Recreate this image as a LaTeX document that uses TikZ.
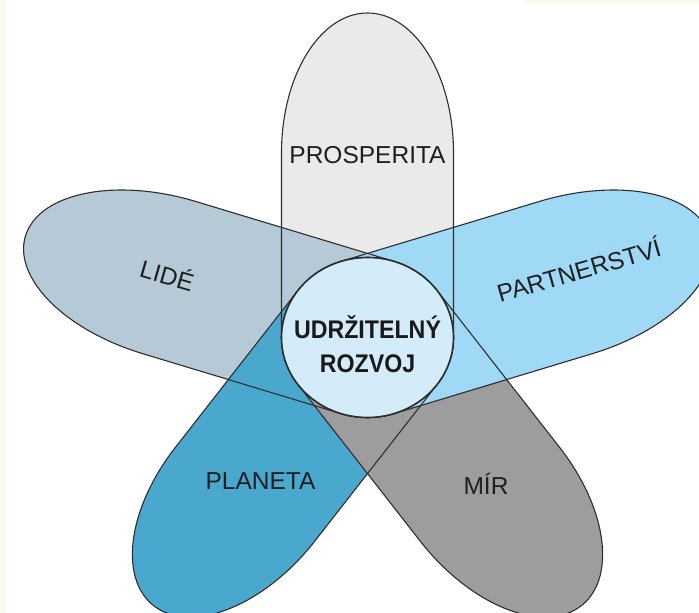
\documentclass[tikz,border=0pt]{standalone}
\usepackage{fontspec}
\setmainfont{Liberation Sans}
\newfontfamily\centerfont[FakeStretch=0.91]{Liberation Sans}
\definecolor{cprosp}{HTML}{EAEAEA}
\definecolor{clide}{HTML}{B5C9D7}
\definecolor{cpart}{HTML}{A0D9F5}
\definecolor{cplan}{HTML}{4AA8CE}
\definecolor{cmir}{HTML}{9C9D9C}
\definecolor{ccirc}{HTML}{D4EBFA}
\definecolor{linegrey}{HTML}{2E2E2E}
\definecolor{textgrey}{HTML}{1F1F1F}
\definecolor{bgyellow}{HTML}{F8FCEC}
\newcommand\petal[4]{%
  \path[rotate=#1,#4] (0,80) -- (#2,80)
    arc[start angle=90,end angle=-90,x radius=#3,y radius=80]
    -- (0,-80) arc[start angle=-90,end angle=-270,radius=80] -- cycle;}
\begin{document}
\begin{tikzpicture}[x=1pt,y=1pt,
  petalline/.style={draw=linegrey,line width=1.1pt},
  lbl/.style={font=\fontsize{24.5}{29}\selectfont,text=textgrey,inner sep=0pt,
    text height=17.5pt,text depth=0pt},
  ctext/.style={font=\centerfont\bfseries\fontsize{25.5}{30}\selectfont,
    text=black!90,inner sep=0pt,anchor=base}]
\useasboundingbox (0,0) rectangle (699,-613);
\fill[white] (0,0) rectangle (699,-613);
\fill[bgyellow] (0,0) rectangle (5.5,-613);
\fill[bgyellow] (525,0) rectangle (699,-2.5);
\begin{scope}
\clip (0,0) rectangle (699,-613);
\begin{scope}[shift={(367.5,-337.5)}]
\begin{scope}[xscale=1.075]
  % fills, bottom to top
  \petal{90}{184.5}{140}{fill=cprosp}
  \petal{162}{194}{140}{fill=clide}
  \petal{-126}{194}{140}{fill=cplan}
  \petal{-54}{194}{140}{fill=cmir}
  \petal{18}{194}{140}{fill=cpart}
  % outlines on top
  \petal{90}{184.5}{140}{petalline}
  \petal{162}{194}{140}{petalline}
  \petal{-126}{194}{140}{petalline}
  \petal{-54}{194}{140}{petalline}
  \petal{18}{194}{140}{petalline}
  % hub
  \draw[fill=ccirc,draw=linegrey,line width=1.6pt] (0,0) circle[radius=80];
\end{scope}
\end{scope}
\end{scope}
\node[lbl] (prosp) at (367.5,-154.3) {PROSPERITA};
\node[lbl,rotate=-16] (lide) at (167,-276) {LIDÉ};
\node[lbl,rotate=16] (part) at (579,-271) {PARTNERSTVÍ};
\node[lbl] (plan) at (260.5,-480.3) {PLANETA};
\node[lbl] (mir) at (486,-485.3) {MÍR};
\node[ctext] (ut1) at (367.5,-338) {UDRŽITELNÝ};
\node[ctext] (ut2) at (367.5,-372) {ROZVOJ};
\end{tikzpicture}
\end{document}
